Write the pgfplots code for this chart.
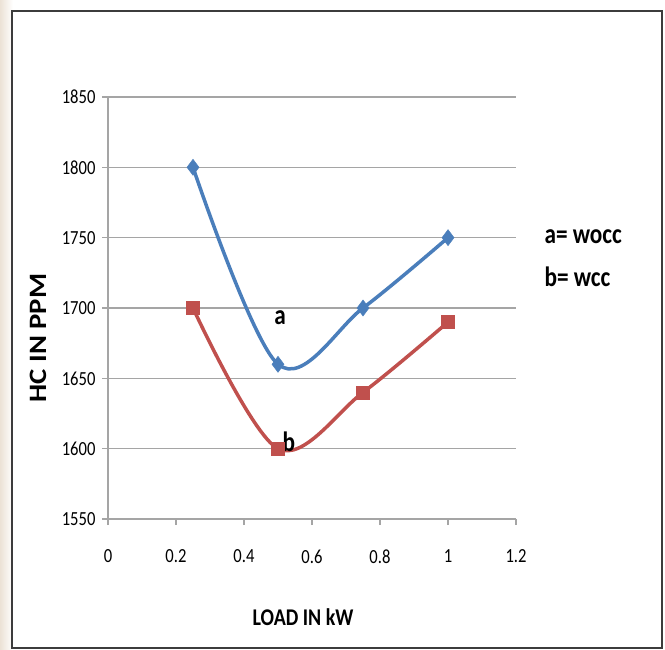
\documentclass[border=0pt]{standalone}
\usepackage{fontspec}
\setmainfont{Carlito}[FakeStretch=0.83]
\newfontfamily\ylabfont{Carlito}[FakeStretch=1.15]
\usepackage{pgfplots}
\pgfplotsset{compat=1.18}
\definecolor{xlblue}{RGB}{74,126,187}
\definecolor{xlred}{RGB}{192,80,77}
\definecolor{gridgray}{RGB}{165,165,165}
\definecolor{framegray}{RGB}{60,60,60}
\definecolor{beige}{RGB}{236,226,214}
\begin{document}
\begin{tikzpicture}[x=1bp,y=1bp]
\path[use as bounding box] (-108,-131) rectangle (557,519);
\fill[left color=beige, right color=white] (-108,-131) rectangle (-95,519);
\draw[line width=1.5bp, framegray] (-96,508) rectangle (554,-129);
\begin{axis}[
  at={(0,0)}, anchor=south west,
  scale only axis, width=408bp, height=422bp,
  xmin=0, xmax=1.2, ymin=1550, ymax=1850,
  xtick={0,0.2,0.4,0.6,0.8,1,1.2},
  ytick={1550,1600,1650,1700,1750,1800,1850},
  axis x line=bottom, axis y line=left,
  axis line style={gridgray, line width=1.2bp, -},
  ymajorgrids, major grid style={gridgray, line width=1.2bp},
  tick align=outside, major tick length=6bp,
  tick style={gridgray, line width=1.2bp},
  /pgf/number format/assume math mode=true,
  /pgf/number format/1000 sep={},
  scaled y ticks=false,
  ticklabel style={font=\fontsize{20bp}{22bp}\selectfont, text=black},
  yticklabel style={xshift=-3bp},
  xticklabel style={yshift=-21bp},
  xlabel={LOAD IN kW},
  xlabel style={at={(axis description cs:0.478,0)}, anchor=center, yshift=-98bp, font=\fontsize{24bp}{26bp}\selectfont\bfseries},
  ylabel={HC IN PPM},
  ylabel style={at={(axis description cs:-0.1716,0.429)}, anchor=center, rotate=0, font=\ylabfont\fontsize{25bp}{27bp}\selectfont\bfseries},
  clip=false,
]
\addplot[xlblue, line width=3.5bp, smooth, tension=0.55, mark=diamond*, mark size=8bp, mark options={solid, fill=xlblue, draw=xlblue, line width=0.5bp}]
  coordinates {(0.25,1800) (0.5,1660) (0.75,1700) (1,1750)};
\addplot[xlred, line width=3.5bp, smooth, tension=0.55, mark=square*, mark size=6.5bp, mark options={solid, fill=xlred, draw=xlred, line width=0.5bp}]
  coordinates {(0.25,1700) (0.5,1600) (0.75,1640) (1,1690)};
\node[font=\fontsize{28bp}{30bp}\selectfont\bfseries] at (axis cs:0.506,1693) {a};
\node[font=\fontsize{28bp}{30bp}\selectfont\bfseries] at (axis cs:0.532,1605) {b};
\end{axis}
\node[anchor=west, font=\fontsize{28bp}{30bp}\selectfont\bfseries] at (433,282) {a= wocc};
\node[anchor=west, font=\fontsize{28bp}{30bp}\selectfont\bfseries] at (433,242) {b= wcc};
\end{tikzpicture}
\end{document}
